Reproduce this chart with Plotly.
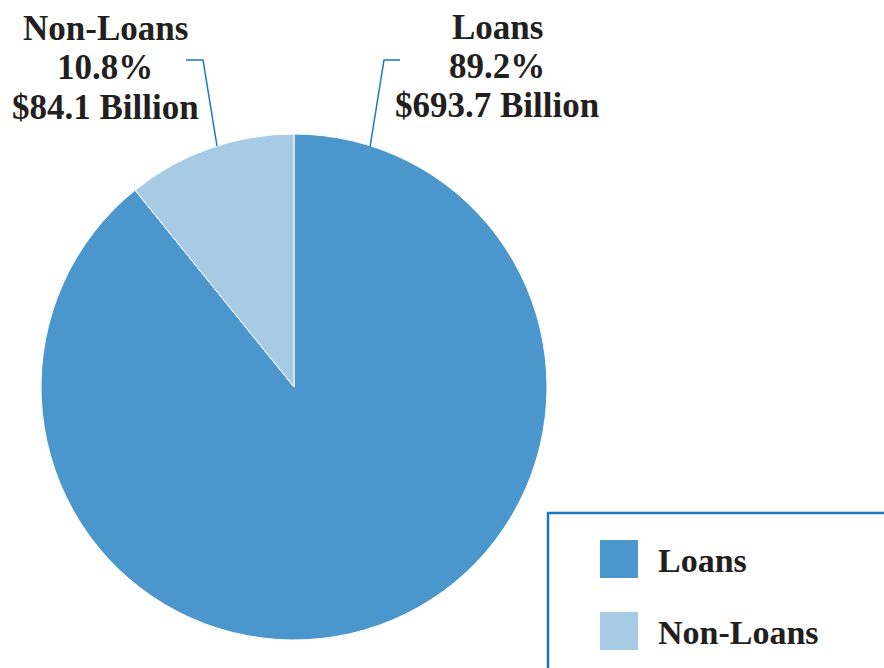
import plotly.graph_objects as go

W, H = 884, 668

labels = ["Loans", "Non-Loans"]
values = [693.7, 84.1]  # $ Billion
colors = ["#4a96cd", "#a7cae5"]

text_color = "#231f20"
line_color = "#1b76bc"
FONT = "Liberation Serif"

total = sum(values)
pcts = [v / total * 100 for v in values]


def px(x):
    return x / W


def py(y):
    return 1 - y / H


fig = go.Figure()

# pie geometry: center (294, 387), radius 253 px
cx, cy, r = 294, 387, 253
fig.add_trace(go.Pie(
    labels=labels,
    values=values,
    sort=False,
    direction="clockwise",
    rotation=0,
    marker=dict(colors=colors, line=dict(color="white", width=1)),
    textinfo="none",
    hoverinfo="label+percent+value",
    showlegend=False,
    domain=dict(x=[px(cx - r), px(cx + r)], y=[py(cy + r), py(cy - r)]),
))

annotations = []
shapes = []

# callout labels (layout positions)
label_pos = {"Loans": (497, [27, 66, 106]), "Non-Loans": (105, [28, 67, 107])}
for lab, val, pct in zip(labels, values, pcts):
    x, ys = label_pos[lab]
    lines = [lab, f"{pct:.1f}%", f"${val:.1f} Billion"]
    for t, y in zip(lines, ys):
        annotations.append(dict(
            x=px(x), y=py(y), xref="paper", yref="paper",
            text=f"<b>{t}</b>", showarrow=False,
            xanchor="center", yanchor="middle",
            font=dict(family=FONT, size=35, color=text_color),
        ))

# leader lines
leaders = {
    "Non-Loans": [(186, 60), (203, 60), (217, 146)],
    "Loans": [(400, 60), (384, 60), (370, 147)],
}
for lab in labels:
    pts = leaders[lab]
    path = "M " + " L ".join(f"{px(x)},{py(y)}" for x, y in pts)
    shapes.append(dict(type="path", path=path, xref="paper", yref="paper",
                       line=dict(color=line_color, width=1.5)))

# custom legend box (extends off the page edge)
shapes.append(dict(type="rect", xref="paper", yref="paper",
                   x0=px(548), x1=px(W + 20), y0=py(H + 20), y1=py(513),
                   line=dict(color=line_color, width=2.5), fillcolor="rgba(0,0,0,0)"))
legend_rows = [559, 631]
for lab, col, yc in zip(labels, colors, legend_rows):
    shapes.append(dict(type="rect", xref="paper", yref="paper",
                       x0=px(600), x1=px(638), y0=py(yc + 19), y1=py(yc - 19),
                       line=dict(width=0), fillcolor=col))
    annotations.append(dict(
        x=px(656), y=py(yc + 1), xref="paper", yref="paper",
        text=f"<b>{lab}</b>", showarrow=False,
        xanchor="left", yanchor="middle",
        font=dict(family=FONT, size=34, color=text_color),
    ))

fig.update_layout(
    width=W, height=H,
    margin=dict(l=0, r=0, t=0, b=0),
    paper_bgcolor="white", plot_bgcolor="white",
    annotations=annotations,
    shapes=shapes,
    showlegend=False,
)

fig.write_html(
    "out.html",
    config={"displayModeBar": False},
    post_script="document.body.style.margin='0';document.body.style.overflow='hidden';",
)
